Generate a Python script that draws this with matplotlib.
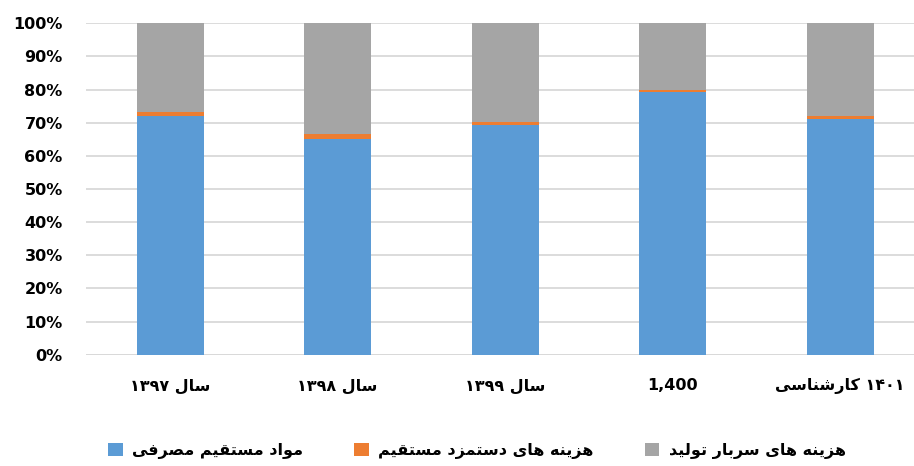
import numpy as np
import matplotlib
matplotlib.use('Agg')
import matplotlib.pyplot as plt
from matplotlib.patches import Patch
from matplotlib.ticker import PercentFormatter

# --- data (percent shares) ---
categories = ['سال ۱۳۹۷', 'سال ۱۳۹۸', 'سال ۱۳۹۹', '1,400', '۱۴۰۱ کارشناسی']
materials = [72.1, 65.2, 69.3, 79.3, 71.0]   # مواد مستقیم مصرفی
labour = [1.2, 1.5, 1.0, 0.6, 1.1]           # هزینه های دستمزد مستقیم
overhead = [100 - m - l for m, l in zip(materials, labour)]  # هزینه های سربار تولید
series_names = ['مواد مستقیم مصرفی', 'هزینه های دستمزد مستقیم', 'هزینه های سربار تولید']
colors = ['#5B9BD5', '#ED7D31', '#A5A5A5']

# simple Persian shaping (matplotlib does no Arabic joining / bidi)
FORMS = {
    'ا': ('\uFE8D', '\uFE8E', None, None),
    'ب': ('\uFE8F', '\uFE90', '\uFE91', '\uFE92'),
    'ت': ('\uFE95', '\uFE96', '\uFE97', '\uFE98'),
    'د': ('\uFEA9', '\uFEAA', None, None),
    'ر': ('\uFEAD', '\uFEAE', None, None),
    'ز': ('\uFEAF', '\uFEB0', None, None),
    'س': ('\uFEB1', '\uFEB2', '\uFEB3', '\uFEB4'),
    'ش': ('\uFEB5', '\uFEB6', '\uFEB7', '\uFEB8'),
    'ص': ('\uFEB9', '\uFEBA', '\uFEBB', '\uFEBC'),
    'ف': ('\uFED1', '\uFED2', '\uFED3', '\uFED4'),
    'ق': ('\uFED5', '\uFED6', '\uFED7', '\uFED8'),
    'ک': ('\uFB8E', '\uFB8F', '\uFB90', '\uFB91'),
    'ل': ('\uFEDD', '\uFEDE', '\uFEDF', '\uFEE0'),
    'م': ('\uFEE1', '\uFEE2', '\uFEE3', '\uFEE4'),
    'ن': ('\uFEE5', '\uFEE6', '\uFEE7', '\uFEE8'),
    'ه': ('\uFEE9', '\uFEEA', '\uFEEB', '\uFEEC'),
    'و': ('\uFEED', '\uFEEE', None, None),
    'ی': ('\uFBFC', '\uFBFD', '\uFBFE', '\uFBFF'),
}


def shape_word(w):
    if not any(c in FORMS for c in w):
        return w
    out = []
    for i, c in enumerate(w):
        f = FORMS[c]
        prev = w[i - 1] if i > 0 else None
        nxt = w[i + 1] if i < len(w) - 1 else None
        jp = prev is not None and prev in FORMS and FORMS[prev][2] is not None
        jn = nxt is not None and nxt in FORMS and f[2] is not None
        if jp and jn:
            out.append(f[3])
        elif jp:
            out.append(f[1])
        elif jn:
            out.append(f[2])
        else:
            out.append(f[0])
    return ''.join(reversed(out))


def fa(text):
    words = text.split(' ')
    return ' '.join(shape_word(w) for w in reversed(words))


plt.rcParams['font.family'] = ['DejaVu Sans']
plt.rcParams['font.weight'] = 'bold'

fig = plt.figure(figsize=(9.14, 4.66), dpi=100)
ax = fig.add_axes([86.25 / 914, 1 - 354.7 / 466, 837.5 / 914, 331.4 / 466])

x = np.arange(len(categories))
w = 0.4
ax.bar(x, materials, w, color=colors[0], zorder=3)
ax.bar(x, labour, w, bottom=materials, color=colors[1], zorder=3)
ax.bar(x, overhead, w, bottom=np.array(materials) + np.array(labour),
       color=colors[2], zorder=3)

ax.set_xlim(-0.5, len(categories) - 0.5)
ax.set_ylim(0, 100)
ax.set_yticks(np.arange(0, 101, 10))
ax.yaxis.set_major_formatter(PercentFormatter(decimals=0))
ax.grid(axis='y', color='#D9D9D9', linewidth=1.3, zorder=0)
for s in ['top', 'right', 'left', 'bottom']:
    ax.spines[s].set_visible(False)
ax.axhline(0, color='#D9D9D9', linewidth=1.3, zorder=1)

ax.set_xticks(x)
ax.set_xticklabels([fa(c) for c in categories])
ax.tick_params(axis='x', length=0, pad=17, labelsize=11.5)
ax.tick_params(axis='y', length=0, pad=17, labelsize=11.5)
for t in ax.get_xticklabels() + ax.get_yticklabels():
    t.set_fontweight('bold')

handles = [Patch(facecolor=c) for c in colors]
fig.legend(handles, [fa(n) for n in series_names], ncol=3, frameon=False,
           loc='center', bbox_to_anchor=(0.522, 1 - 451 / 466),
           prop={'size': 11.5, 'weight': 'bold'},
           handlelength=0.9, handleheight=0.9, handletextpad=0.6,
           columnspacing=3.2)

fig.savefig('out.png', dpi=100)
